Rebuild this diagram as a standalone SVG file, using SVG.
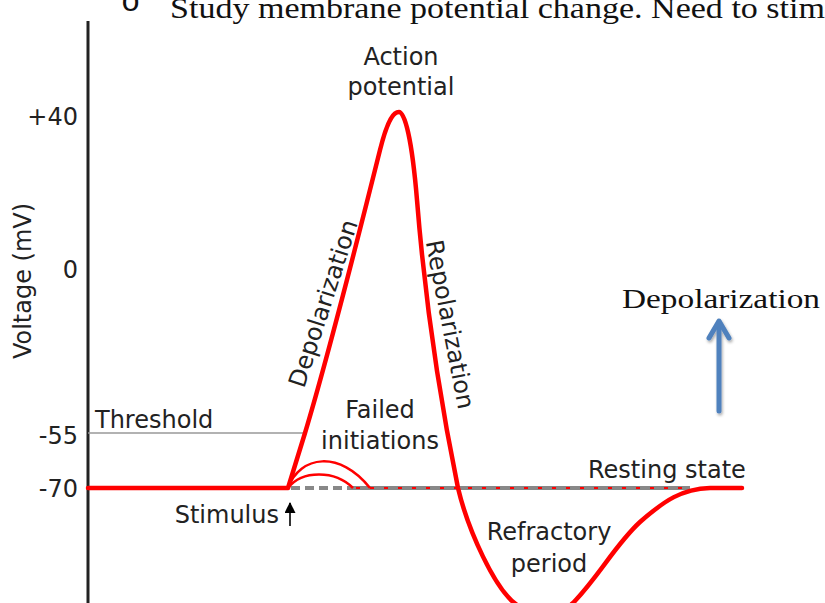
<svg xmlns="http://www.w3.org/2000/svg" width="825" height="603" viewBox="0 0 825 603">
<style>
.lbl{font-family:"DejaVu Sans",sans-serif;font-size:24px;fill:#222}
.ser{font-family:"Liberation Serif",serif;fill:#111}
.ap{fill:none;stroke:#ff0000;stroke-width:4.5;stroke-linejoin:round;stroke-linecap:round}
.fail{fill:none;stroke:#ff0000;stroke-width:2.5}
</style>
<defs>
<marker id="blk" viewBox="0 0 10 10" refX="9" refY="5" markerWidth="13" markerHeight="11" markerUnits="userSpaceOnUse" orient="auto">
<path d="M0,0 L10,5 L0,10 Z" fill="#000"/>
</marker>
<filter id="sh" x="-50%" y="-50%" width="200%" height="200%">
<feGaussianBlur in="SourceAlpha" stdDeviation="1.5"/>
<feOffset dx="1" dy="2" result="b"/>
<feComponentTransfer><feFuncA type="linear" slope="0.35"/></feComponentTransfer>
<feMerge><feMergeNode/><feMergeNode in="SourceGraphic"/></feMerge>
</filter>
</defs>
<rect width="825" height="603" fill="#fff"/>

<g id="heading">
<text x="121" y="11" style="font-family:'Liberation Mono',monospace" font-size="32" fill="#111">o</text>
<text class="ser" x="170" y="18" font-size="30" textLength="655" lengthAdjust="spacingAndGlyphs">Study membrane potential change. Need to stim</text>
</g>

<g id="axis">
<line x1="88" y1="21" x2="88" y2="603" stroke="#222" stroke-width="3"/>
<text class="lbl" x="31" y="281" text-anchor="middle" transform="rotate(-90 31 281)">Voltage (mV)</text>
<text class="lbl" x="78" y="125" text-anchor="end">+40</text>
<text class="lbl" x="78" y="278" text-anchor="end">0</text>
<text class="lbl" x="78" y="444" text-anchor="end">-55</text>
<text class="lbl" x="78" y="497" text-anchor="end">-70</text>
</g>

<g id="threshold">
<line x1="88" y1="433" x2="306" y2="433" stroke="#999" stroke-width="1.3"/>
<text class="lbl" x="95" y="428">Threshold</text>
</g>

<g id="resting">
<line x1="291" y1="488" x2="353" y2="488" stroke="#888" stroke-width="4" stroke-dasharray="9,5"/>
<line x1="353" y1="488" x2="690" y2="488" stroke="#888" stroke-width="4"/>
<line x1="356" y1="488" x2="690" y2="488" stroke="#ff0000" stroke-width="2" stroke-dasharray="4,10"/>
<text class="lbl" x="588" y="478">Resting state</text>
</g>

<g id="connectors">
<path class="ap" d="M88 488 L288 488 L305 433 C330 350 360 230 380 150 C388 118 394 112 399 112 C405 112 412 140 417 200 C425 300 440 400 458 488 C468 530 495 590 517 605 C535 618 557 618 573 603 C600 575 615 545 640 522 C665 500 682 489 710 488 L742 488"/>
<path class="fail" d="M288 488 C300 455 340 450 370 488"/>
<path class="fail" d="M288 488 C302 470 335 470 353 488"/>
<line x1="290" y1="526" x2="290" y2="503" stroke="#000" stroke-width="1.6" marker-end="url(#blk)"/>
</g>

<g id="action-potential">
<text class="lbl" x="401" y="65" text-anchor="middle">Action</text>
<text class="lbl" x="401" y="95" text-anchor="middle">potential</text>
</g>

<g id="depolarization-label">
<text class="lbl" x="331" y="306" text-anchor="middle" transform="rotate(-72 331 306)">Depolarization</text>
</g>

<g id="repolarization-label">
<text class="lbl" x="442" y="326" text-anchor="middle" transform="rotate(79 442 326)">Repolarization</text>
</g>

<g id="failed-initiations">
<text class="lbl" x="380" y="418" text-anchor="middle">Failed</text>
<text class="lbl" x="380" y="449" text-anchor="middle">initiations</text>
</g>

<g id="stimulus">
<text class="lbl" x="279" y="523" text-anchor="end">Stimulus</text>
</g>

<g id="refractory">
<text class="lbl" x="549" y="540" text-anchor="middle">Refractory</text>
<text class="lbl" x="549" y="572" text-anchor="middle">period</text>
</g>

<g id="depolarization-note">
<text class="ser" x="622" y="308" font-size="28" textLength="198" lengthAdjust="spacingAndGlyphs">Depolarization</text>
<g filter="url(#sh)" stroke="#4f81bd" stroke-width="5" stroke-linecap="round" stroke-linejoin="round" fill="none">
<line x1="719" y1="411" x2="719" y2="322"/>
<polyline points="709,338 719,321 729,338"/>
</g>
</g>
</svg>
